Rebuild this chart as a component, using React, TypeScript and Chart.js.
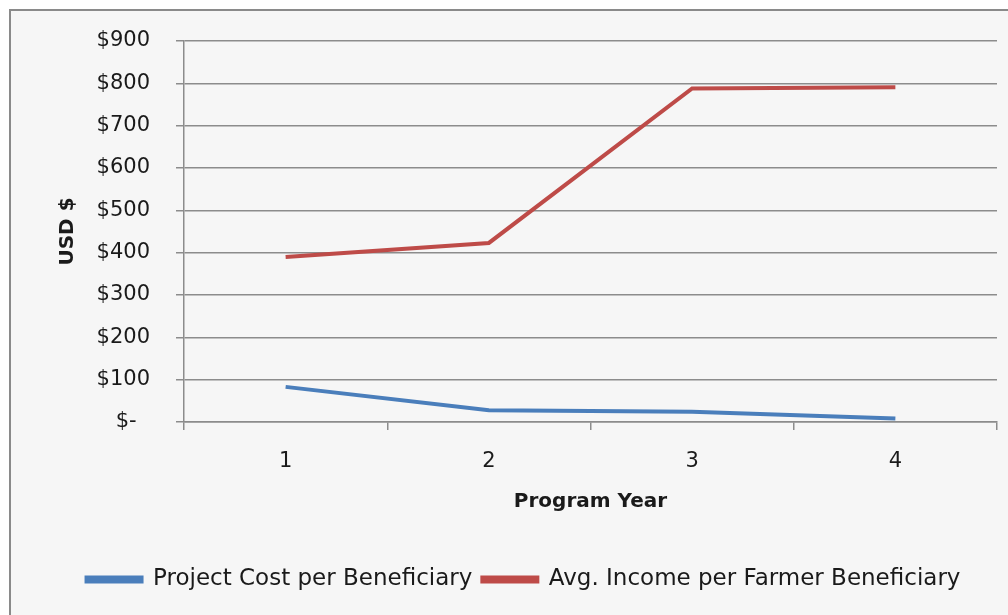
import React, { useEffect, useRef } from "react";
import { Chart, registerables } from "chart.js";

Chart.register(...registerables);

const years = ["1", "2", "3", "4"];
const projectCost = [83, 28, 24, 8];
const avgIncome = [390, 423, 788, 791];
const yTicks = [0, 100, 200, 300, 400, 500, 600, 700, 800, 900];

const FONT = "'DejaVu Sans', 'Noto Sans', sans-serif";

const legendShift = {
  id: "legendShift",
  afterLayout(chart: any) {
    const lg = chart.legend;
    if (lg) {
      lg.left += 19;
      lg.right += 19;
    }
  },
};

export default function App() {
  const ref = useRef<HTMLCanvasElement | null>(null);
  useEffect(() => {
    if (!ref.current) return;
    const chart = new Chart(ref.current, {
      type: "line",
      data: {
        labels: years,
        datasets: [
          {
            label: "Project Cost per Beneficiary",
            data: projectCost,
            borderColor: "#4a7ebb",
            backgroundColor: "#4a7ebb",
            borderWidth: 4,
            pointRadius: 0,
            tension: 0,
          },
          {
            label: "Avg. Income per Farmer Beneficiary",
            data: avgIncome,
            borderColor: "#be4b48",
            backgroundColor: "#be4b48",
            borderWidth: 4,
            pointRadius: 0,
            tension: 0,
          },
        ],
      },
      plugins: [legendShift],
      options: {
        responsive: false,
        animation: false,
        devicePixelRatio: 1,
        layout: { padding: { left: 12, top: 41, right: 11, bottom: 14 } },
        plugins: {
          tooltip: { enabled: false },
          legend: {
            position: "bottom",
            labels: {
              boxWidth: 55,
              boxHeight: 4,
              padding: 10,
              color: "#1a1a1a",
              font: { family: FONT, size: 23 },
            },
          },
        },
        scales: {
          x: {
            type: "category",
            offset: true,
            afterFit: (s: any) => {
              s.height = 136;
            },
            grid: {
              offset: true,
              drawOnChartArea: false,
              drawTicks: true,
              tickLength: 8,
              color: "#8c8c8c",
              lineWidth: 1.5,
            },
            border: { display: true, color: "#8c8c8c", width: 1.5 },
            ticks: {
              padding: 19,
              color: "#1a1a1a",
              font: { family: FONT, size: 21 },
            },
            title: {
              display: true,
              text: "Program Year",
              color: "#1a1a1a",
              font: { family: FONT, size: 20, weight: "bold" },
              padding: { top: 0, bottom: 44 },
            },
          },
          y: {
            min: 0,
            max: 900,
            afterFit: (s: any) => {
              s.width = 172;
            },
            afterBuildTicks: (s: any) => {
              s.ticks = yTicks.map((v) => ({ value: v }));
            },
            grid: {
              drawTicks: true,
              tickLength: 8,
              color: "#8c8c8c",
              lineWidth: 1.5,
            },
            border: { display: true, color: "#8c8c8c", width: 1.5 },
            ticks: {
              padding: 26,
              color: "#1a1a1a",
              font: { family: FONT, size: 21 },
              callback: (v: any) => (Number(v) === 0 ? "$-  " : "$" + v),
            },
            title: {
              display: true,
              text: "USD $",
              color: "#1a1a1a",
              font: { family: FONT, size: 20, weight: "bold" },
              padding: { top: 44, bottom: 0 },
            },
          },
        },
      },
    });
    return () => chart.destroy();
  }, []);

  return (
    <div
      style={{
        position: "fixed",
        left: 0,
        top: 0,
        width: 1008,
        height: 615,
        background: "#ffffff",
        overflow: "hidden",
      }}
    >
      <div
        style={{
          position: "absolute",
          left: 9,
          top: 9,
          width: 1100,
          height: 700,
          background: "#f6f6f6",
          borderLeft: "2px solid #8a8a8a",
          borderTop: "2px solid #8a8a8a",
        }}
      />
      <canvas
        ref={ref}
        width={1008}
        height={615}
        style={{ position: "absolute", left: 0, top: 0 }}
      />
    </div>
  );
}
